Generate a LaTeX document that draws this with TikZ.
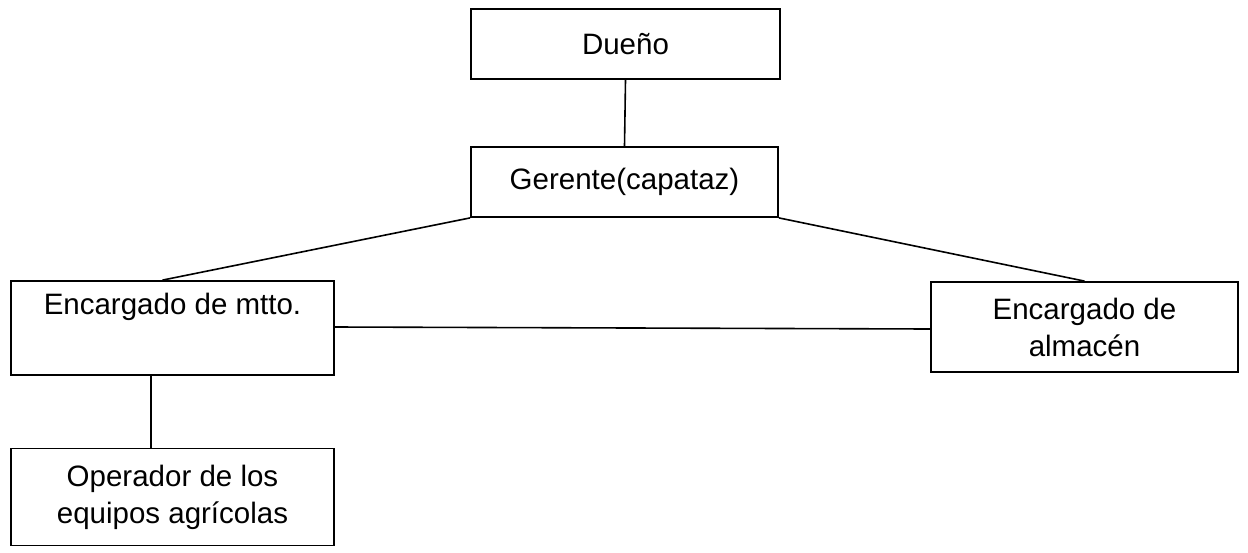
\documentclass[tikz,border=0pt]{standalone}
\usepackage{fontspec}
\setmainfont{Liberation Sans}
\begin{document}
\begin{tikzpicture}[x=1pt,y=-1pt,
  orgbox/.style={draw, line width=1.8pt, inner sep=0pt, align=center,
    font=\fontsize{29.5}{37}\selectfont},
  link/.style={line width=1.6pt}]
\useasboundingbox (0,0) rectangle (1248,552);
% boxes of the chart
\node[orgbox, minimum width=309pt, minimum height=70pt] (dueno) at (625.5,44) {Dueño};
\node[orgbox, minimum width=307pt, minimum height=70pt] (gerente) at (624.5,182) {Gerente(capataz)};
\node[orgbox, minimum width=323pt, minimum height=94pt] (mtto) at (172.5,328) {Encargado de mtto.\\ \strut};
\node[orgbox, minimum width=307pt, minimum height=90pt] (almacen) at (1084.5,327) {Encargado de\\almacén};
\node[orgbox, minimum width=323pt, minimum height=97pt] (operador) at (172.5,497) {Operador de los\\equipos agrícolas};
% connecting lines
\draw[link] (dueno.south) -- (gerente.north);
\draw[link] (gerente.south west) -- ([xshift=-10pt]mtto.north);
\draw[link] (gerente.south east) -- (almacen.north);
\draw[link] ([yshift=1pt]mtto.east) -- ([yshift=-2pt]almacen.west);
\draw[link] ([xshift=-21.5pt]mtto.south) -- ([xshift=-21.5pt]operador.north);
\end{tikzpicture}
\end{document}
